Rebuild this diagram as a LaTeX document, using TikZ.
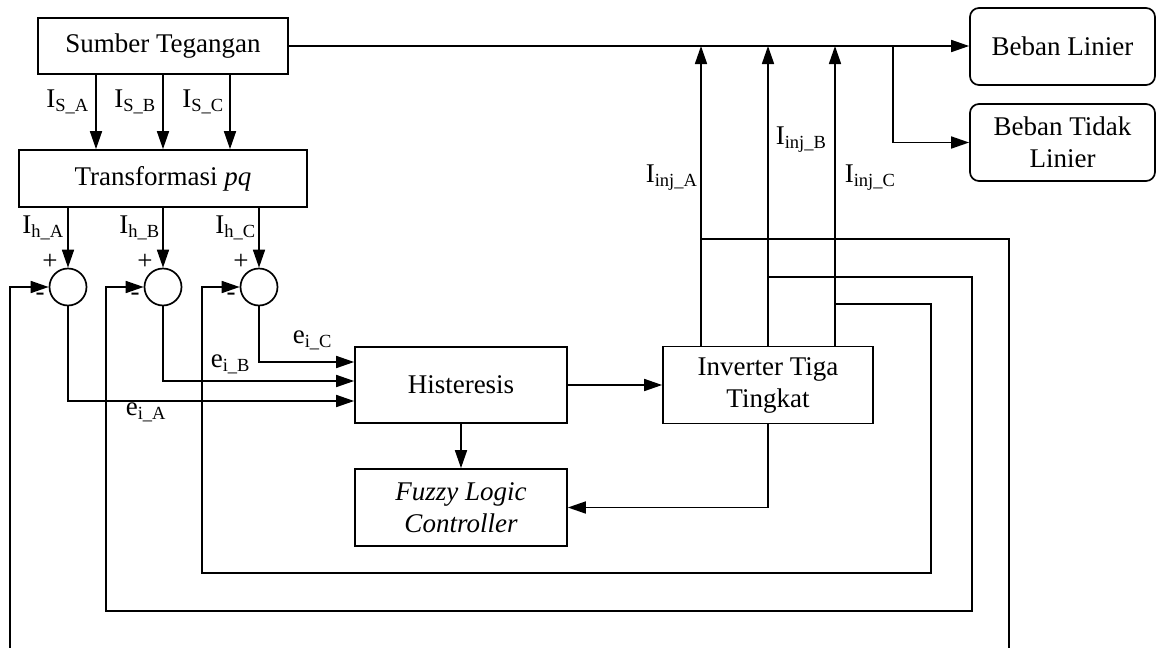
\documentclass[tikz,border=0pt]{standalone}
\usepackage{fontspec}
\setmainfont{Liberation Serif}
\usetikzlibrary{arrows.meta,calc}
\newcommand\mysb[1]{\raisebox{-4pt}{\fontsize{18.5}{18.5}\selectfont #1}}
\begin{document}
\begin{tikzpicture}[x=1pt,y=-1pt, line width=1.7pt,
  >={Triangle[length=18pt,width=12pt]},
  every node/.style={font=\fontsize{27}{32}\selectfont, inner sep=0pt},
  blk/.style={draw, rectangle, align=center},
  rblk/.style={blk, rounded corners=9pt},
  sumnode/.style={draw, circle, minimum size=37pt},
  lbl/.style={anchor=base east},
  lblw/.style={anchor=base west}]
\useasboundingbox (0,0) rectangle (1157,648);
\clip (0,0) rectangle (1157,648);

% blocks
\node[blk, minimum width=250pt, minimum height=56pt] (src) at (163,46) {Sumber Tegangan};
\node[blk, minimum width=288pt, minimum height=57pt] (pq) at (163,178.5) {Transformasi \textit{pq}};
\node[sumnode] (sA) at (68,287) {};
\node[sumnode] (sB) at (163,287) {};
\node[sumnode] (sC) at (259,287) {};
\node[blk, minimum width=212pt, minimum height=76pt] (hist) at (461,385) {Histeresis};
\node[blk, minimum width=212pt, minimum height=77pt] (flc) at (461,507.5) {\itshape Fuzzy Logic\\\itshape Controller};
\node[blk, minimum width=210pt, minimum height=77pt] (inv) at (768,385) {Inverter Tiga\\Tingkat};
\node[rblk, minimum width=185pt, minimum height=77pt] (bl) at (1062.5,46.5) {Beban Linier};
\node[rblk, minimum width=185pt, minimum height=77pt] (btl) at (1062.5,142.5) {Beban Tidak\\Linier};

% junction coordinates
\coordinate (jL) at (893,46);
\coordinate (tA) at (701,46);
\coordinate (tB) at (768,46);
\coordinate (tC) at (835,46);
\coordinate (fA) at (701,239);
\coordinate (fB) at (768,277);
\coordinate (fC) at (835,304);

% main line and loads
\draw[->] (src.east) -- (src.east -| bl.west);
\draw[->] (jL) |- (btl.west);

% source to pq
\draw[->] ([xshift=-67pt]src.south) -- ([xshift=-67pt]pq.north);
\draw[->] (src.south) -- (pq.north);
\draw[->] ([xshift=67pt]src.south) -- ([xshift=67pt]pq.north);

% pq to sums
\draw[->] (pq.south -| sA) -- (sA.north);
\draw[->] (pq.south -| sB) -- (sB.north);
\draw[->] (pq.south -| sC) -- (sC.north);

% sums to histeresis
\draw[->] (sA.south) |- ($(hist.west)+(0,16)$);
\draw[->] (sB.south) |- ($(hist.west)+(0,-4)$);
\draw[->] (sC.south) |- ($(hist.west)+(0,-23)$);

% histeresis, inverter, flc
\draw[->] (hist.east) -- (inv.west);
\draw[->] (hist.south) -- (flc.north);
\draw[->] (inv.south) |- (flc.east);

% injection
\draw[->] (inv.north -| tA) -- (tA);
\draw[->] (inv.north -| tB) -- (tB);
\draw[->] (inv.north -| tC) -- (tC);

% feedback loops
\draw[->] (fA) -| (1009,660) -| (10,287) -- (sA.west);
\draw[->] (fB) -| (972,611) -| (106,287) -- (sB.west);
\draw[->] (fC) -| (931,573) -| (202,287) -- (sC.west);

% labels
\node[lbl] (lsA) at (89,107) {I\mysb{S\_A}};
\node[lbl] (lsB) at (156,107) {I\mysb{S\_B}};
\node[lbl] (lsC) at (224,107) {I\mysb{S\_C}};
\node[lbl] (lhA) at (64,233) {I\mysb{h\_A}};
\node[lbl] (lhB) at (160,233) {I\mysb{h\_B}};
\node[lbl] (lhC) at (256,233) {I\mysb{h\_C}};

\node (pA) at ($(sA)+(-18,-25)$) {+};
\node (pB) at ($(sB)+(-18,-25)$) {+};
\node (pC) at ($(sC)+(-18,-25)$) {+};
\node (mA) at ($(sA)+(-28,10)$) {-};
\node (mB) at ($(sB)+(-28,10)$) {-};
\node (mC) at ($(sC)+(-28,10)$) {-};

\node[lblw] (leA) at (125,415) {e\mysb{i\_A}};
\node[lblw] (leB) at (210,367) {e\mysb{i\_B}};
\node[lblw] (leC) at (292,343) {e\mysb{i\_C}};

\node[lblw] (ljA) at (645,182) {I\mysb{inj\_A}};
\node[lblw] (ljB) at (775,144) {I\mysb{inj\_B}};
\node[lblw] (ljC) at (844,182) {I\mysb{inj\_C}};
\end{tikzpicture}
\end{document}
